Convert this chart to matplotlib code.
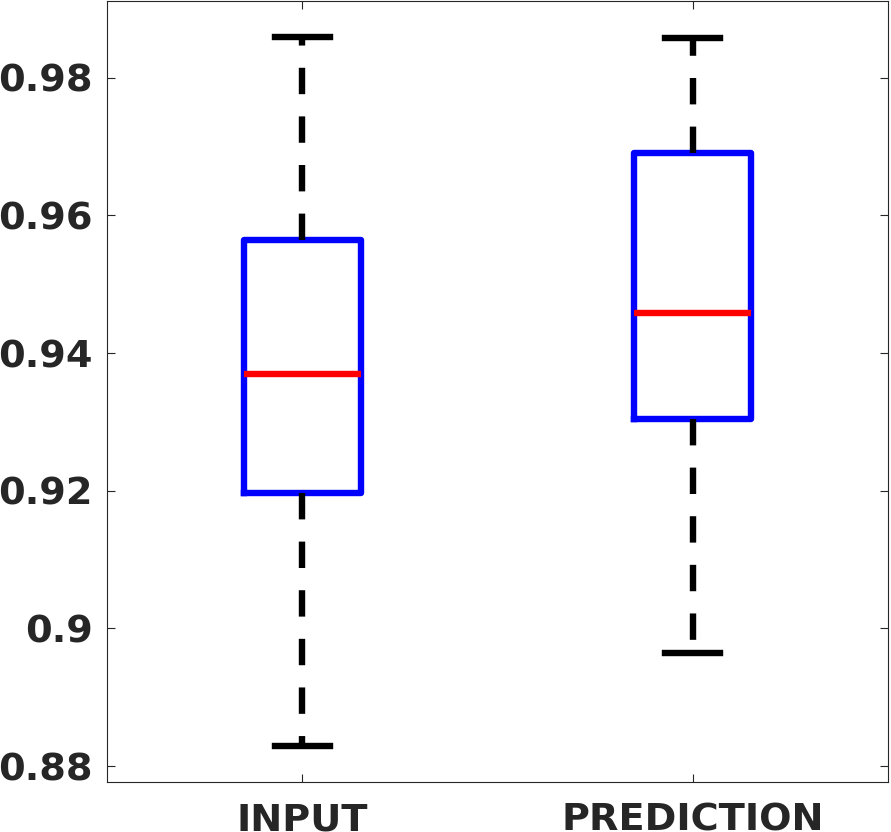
import numpy as np
import matplotlib.pyplot as plt

# box statistics
labels = ['INPUT', 'PREDICTION']
whislo = [0.8829, 0.8965]
q1 = [0.9197, 0.9304]
med = [0.9370, 0.9458]
q3 = [0.9564, 0.9691]
whishi = [0.9859, 0.9858]

stats = []
for i in range(len(labels)):
    stats.append({'label': labels[i], 'whislo': whislo[i], 'q1': q1[i],
                  'med': med[i], 'q3': q3[i], 'whishi': whishi[i], 'fliers': []})

fig = plt.figure(figsize=(8.91, 8.32), dpi=100)
ax = fig.add_axes([107/891, 1 - 782/832, 781/891, 781.5/832])

lw = 4.6
ax.bxp(stats, positions=[1, 2], widths=0.3, capwidths=0.14, showfliers=False,
       boxprops=dict(color='#0000ff', linewidth=lw),
       medianprops=dict(color='#ff0000', linewidth=lw),
       whiskerprops=dict(color='black', linewidth=lw, linestyle=(0, (19/lw, 16/lw))),
       capprops=dict(color='black', linewidth=lw))

ax.set_xlim(0.5, 2.5)
ax.set_ylim(0.8777, 0.9912)
ax.set_yticks([0.88, 0.9, 0.92, 0.94, 0.96, 0.98])
ax.set_yticklabels(['0.88', '0.9', '0.92', '0.94', '0.96', '0.98'])
ax.tick_params(direction='in', length=6, width=0.8, color='#262626',
               left=True, right=True, top=True, bottom=True,
               labelsize=27.5, labelcolor='#262626', pad=10)
ax.tick_params(axis='x', pad=15)
for lab in ax.get_xticklabels() + ax.get_yticklabels():
    lab.set_fontweight('bold')
for s in ax.spines.values():
    s.set_color('#262626')
    s.set_linewidth(0.8)

fig.savefig('out.png', dpi=100)
